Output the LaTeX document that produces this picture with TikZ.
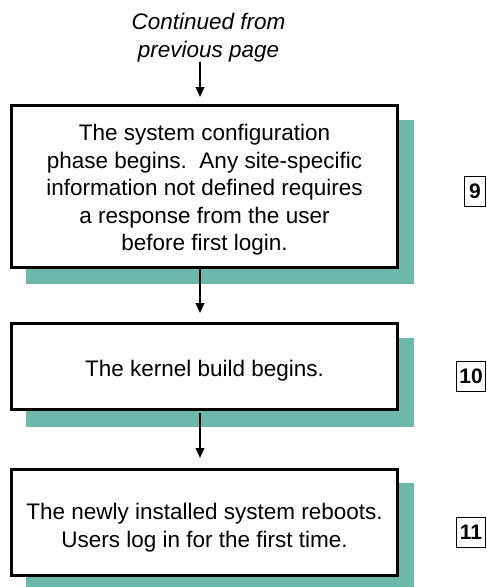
\documentclass[tikz,border=0pt]{standalone}
\usepackage{fontspec}
\setmainfont{Liberation Sans}
\usetikzlibrary{arrows.meta,backgrounds}
\definecolor{shadowgreen}{RGB}{108,185,170}
\tikzset{
  stepbox/.style={draw=black, line width=3pt, fill=white, inner sep=0pt, minimum width=386pt},
  steptext/.style={inner sep=0pt, align=center, font=\fontsize{22.5}{27.5}\selectfont},
  numbox/.style={draw=black, line width=1.7pt, inner sep=0pt,
    font=\fontsize{21}{22}\selectfont\bfseries, minimum height=30pt},
  flow/.style={line width=1.9pt, -{Triangle[length=10pt,width=8.5pt]}},
  shade/.style={fill=shadowgreen, draw=none}
}
\begin{document}
\begin{tikzpicture}[x=1pt,y=-1pt]
\useasboundingbox (0,0) rectangle (487,587);
\node[align=center, font=\fontsize{22.5}{28}\selectfont\itshape, inner sep=0pt] (cont) at (208.5,38) {Continued from\\previous page};
\node[stepbox, minimum height=162pt] (b1) at (204.5,186.5) {};
\node[stepbox, minimum height=86pt] (b2) at (204.5,366.5) {};
\node[stepbox, minimum height=106pt] (b3) at (204.5,522.5) {};
\node[steptext] (t1) at ([yshift=-3.5pt]b1.center) {The system configuration\\phase begins.\ \ Any site-specific\\information not defined requires\\a response from the user\\before first login.};
\node[steptext] (t2) at ([yshift=-4.5pt]b2.center) {The kernel build begins.};
\node[steptext] (t3) at ([yshift=-5pt]b3.center) {The newly installed system reboots.\\Users log in for the first time.};
\begin{scope}[on background layer]
\fill[shade] ([shift={(16pt,-16pt)}]b1.north west) rectangle ([shift={(15pt,-15pt)}]b1.south east);
\fill[shade] ([shift={(16pt,-16pt)}]b2.north west) rectangle ([shift={(15pt,-16pt)}]b2.south east);
\fill[shade] ([shift={(16pt,-15pt)}]b3.north west) rectangle ([shift={(15pt,-15pt)}]b3.south east);
\end{scope}
\node[numbox, minimum width=21pt] (n9) at (475,191.5) {9};
\node[numbox, minimum width=29pt] (n10) at (471,376.5) {10};
\node[numbox, minimum width=29pt] (n11) at (471,532.5) {11};
\draw[flow] ([xshift=-8.5pt,yshift=1pt]cont.south) -- ([xshift=-4.5pt,yshift=7pt]b1.north);
\draw[flow] ([xshift=-4.5pt]b1.south) -- ([xshift=-4.5pt,yshift=9pt]b2.north);
\draw[flow] ([xshift=-4.5pt,yshift=-2pt]b2.south) -- ([xshift=-4.5pt,yshift=10pt]b3.north);
\end{tikzpicture}
\end{document}
